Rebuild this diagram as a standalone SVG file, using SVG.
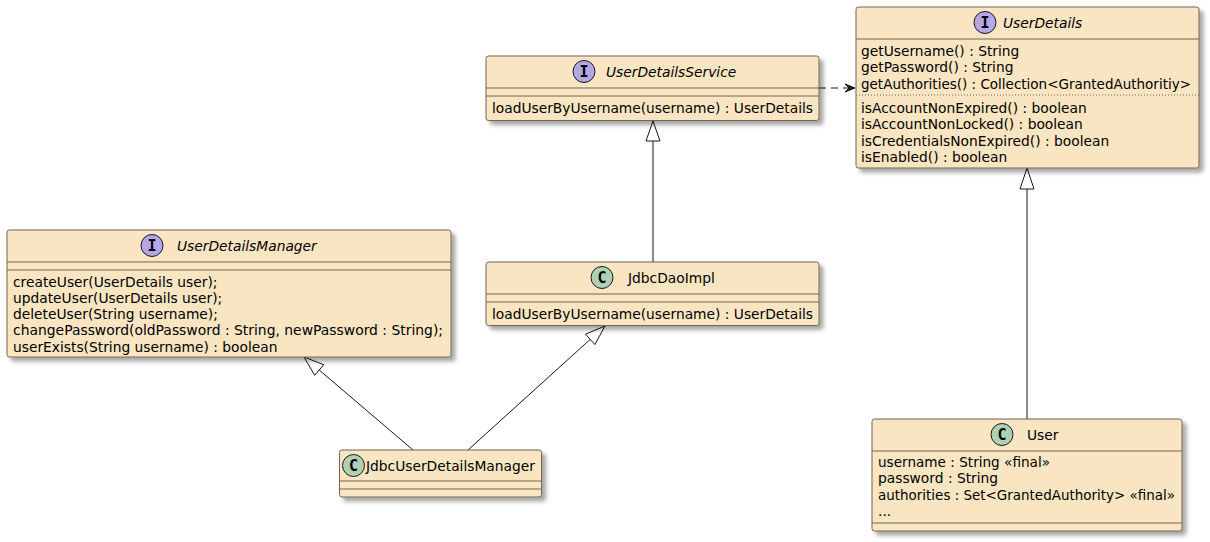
<svg xmlns="http://www.w3.org/2000/svg" width="1210" height="542" viewBox="0 0 1210 542">
<defs>
<filter id="sh" x="-10%" y="-10%" width="130%" height="140%">
<feDropShadow dx="4" dy="4" stdDeviation="2" flood-color="#000" flood-opacity="0.35"/>
</filter>
</defs>
<style>
.box{fill:#F9E5C1;stroke:#736552;stroke-width:1;filter:url(#sh)}
.sep{stroke:#736552;stroke-width:1;fill:none}
.dot{stroke:#736552;stroke-width:1;stroke-dasharray:1,2;fill:none}
.t{font-family:"DejaVu Sans",sans-serif;font-size:13.8px;fill:#000}
.ti{font-family:"DejaVu Sans",sans-serif;font-size:13.8px;font-style:italic;fill:#000}
.ci{fill:#B4A7E5;stroke:#181818;stroke-width:1}
.cc{fill:#ADD1B2;stroke:#181818;stroke-width:1}
.cl{font-family:"DejaVu Sans Mono",monospace;font-size:15px;font-weight:bold;fill:#000;text-anchor:middle}
.ln{stroke:#181818;stroke-width:1;fill:none}
.tri{fill:#fff;stroke:#181818;stroke-width:1}
</style>

<g id="connectors">
<line class="ln" x1="819" y1="88" x2="852" y2="88" stroke-dasharray="7,5"/>
<polygon points="855,88 845,84 849,88 845,92" fill="#181818" stroke="#181818"/>
<line class="ln" x1="653" y1="141" x2="653" y2="262"/>
<polygon class="tri" points="653,121 646,141 660,141"/>
<line class="ln" x1="1027" y1="189" x2="1027" y2="419"/>
<polygon class="tri" points="1027,168 1020,189 1034,189"/>
<line class="ln" x1="413" y1="450" x2="319.2" y2="370"/>
<polygon class="tri" points="304,357 323.8,364.7 314.7,375.3"/>
<line class="ln" x1="468" y1="450" x2="590.2" y2="339.4"/>
<polygon class="tri" points="605,326 594.9,344.6 585.5,334.2"/>
</g>

<g id="UserDetailsService">
<rect class="box" x="486" y="56" width="333" height="64.5" rx="2.5"/>
<line class="sep" x1="486" y1="88" x2="819" y2="88"/>
<line class="sep" x1="486" y1="96" x2="819" y2="96"/>
<circle class="ci" cx="584" cy="71.5" r="11"/>
<text class="cl" x="584" y="76.8">I</text>
<text class="ti" x="606" y="77">UserDetailsService</text>
<text class="t" x="492" y="113" textLength="321" lengthAdjust="spacingAndGlyphs">loadUserByUsername(username) : UserDetails</text>
</g>

<g id="UserDetails">
<rect class="box" x="856" y="7" width="343" height="161" rx="2.5"/>
<line class="sep" x1="856" y1="39" x2="1199" y2="39"/>
<line class="dot" x1="856" y1="95" x2="1199" y2="95"/>
<circle class="ci" cx="985" cy="22.5" r="11"/>
<text class="cl" x="985" y="27.8">I</text>
<text class="ti" x="1003" y="28">UserDetails</text>
<text class="t" x="861" y="56">getUsername() : String</text>
<text class="t" x="861" y="72.3">getPassword() : String</text>
<text class="t" x="861" y="88.6" textLength="330" lengthAdjust="spacingAndGlyphs">getAuthorities() : Collection&lt;GrantedAuthoritiy&gt;</text>
<text class="t" x="861" y="113">isAccountNonExpired() : boolean</text>
<text class="t" x="861" y="129.3">isAccountNonLocked() : boolean</text>
<text class="t" x="861" y="145.6">isCredentialsNonExpired() : boolean</text>
<text class="t" x="861" y="162">isEnabled() : boolean</text>
</g>

<g id="UserDetailsManager">
<rect class="box" x="7" y="230" width="444" height="127" rx="2.5"/>
<line class="sep" x1="7" y1="262" x2="451" y2="262"/>
<line class="sep" x1="7" y1="270" x2="451" y2="270"/>
<circle class="ci" cx="152" cy="245.5" r="11"/>
<text class="cl" x="152" y="250.8">I</text>
<text class="ti" x="177" y="251">UserDetailsManager</text>
<text class="t" x="13" y="286.5">createUser(UserDetails user);</text>
<text class="t" x="13" y="302.8">updateUser(UserDetails user);</text>
<text class="t" x="13" y="319.1">deleteUser(String username);</text>
<text class="t" x="13" y="335.4" textLength="430" lengthAdjust="spacingAndGlyphs">changePassword(oldPassword : String, newPassword : String);</text>
<text class="t" x="13" y="351.7">userExists(String username) : boolean</text>
</g>

<g id="JdbcDaoImpl">
<rect class="box" x="486" y="262" width="333" height="63.5" rx="2.5"/>
<line class="sep" x1="486" y1="294" x2="819" y2="294"/>
<line class="sep" x1="486" y1="302" x2="819" y2="302"/>
<circle class="cc" cx="602" cy="277.5" r="11"/>
<text class="cl" x="602" y="282.8">C</text>
<text class="t" x="628" y="283">JdbcDaoImpl</text>
<text class="t" x="492" y="318.5" textLength="321" lengthAdjust="spacingAndGlyphs">loadUserByUsername(username) : UserDetails</text>
</g>

<g id="JdbcUserDetailsManager">
<rect class="box" x="339.5" y="450" width="202" height="47" rx="2.5"/>
<line class="sep" x1="339.5" y1="481" x2="541.5" y2="481"/>
<line class="sep" x1="339.5" y1="489" x2="541.5" y2="489"/>
<circle class="cc" cx="353.5" cy="465.5" r="11"/>
<text class="cl" x="353.5" y="470.8">C</text>
<text class="t" x="366" y="471">JdbcUserDetailsManager</text>
</g>

<g id="User">
<rect class="box" x="872" y="419" width="310" height="112" rx="2.5"/>
<line class="sep" x1="872" y1="451" x2="1182" y2="451"/>
<line class="sep" x1="872" y1="523" x2="1182" y2="523"/>
<circle class="cc" cx="1002" cy="434.5" r="11"/>
<text class="cl" x="1002" y="439.8">C</text>
<text class="t" x="1027" y="440">User</text>
<text class="t" x="878" y="467" textLength="172" lengthAdjust="spacingAndGlyphs">username : String «final»</text>
<text class="t" x="878" y="483.3">password : String</text>
<text class="t" x="878" y="499.6" textLength="297" lengthAdjust="spacingAndGlyphs">authorities : Set&lt;GrantedAuthority&gt; «final»</text>
<text class="t" x="878" y="516">...</text>
</g>
</svg>
